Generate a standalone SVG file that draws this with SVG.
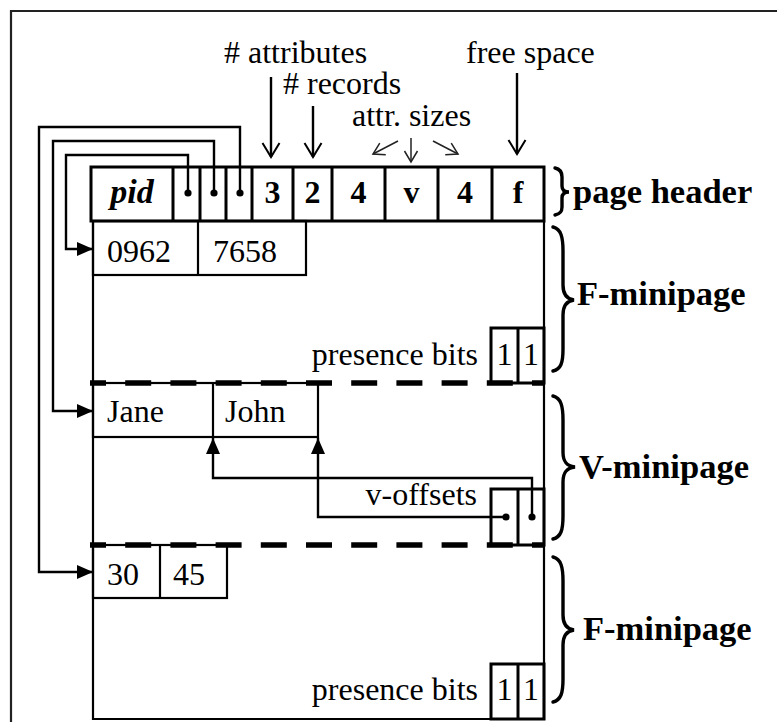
<svg xmlns="http://www.w3.org/2000/svg" width="777" height="722" viewBox="0 0 777 722">
<style>
text{font-family:"Liberation Serif","Times New Roman",serif;font-size:32px;fill:#000}
.b{font-weight:bold}
.lab{font-weight:bold;font-size:34.5px}
.bi{font-weight:bold;font-style:italic;font-size:34px}
.c{text-anchor:middle}
.e{text-anchor:end}
.thick{fill:none;stroke:#000;stroke-width:3}
.thin{fill:none;stroke:#000;stroke-width:2.2}
.dash{fill:none;stroke:#000;stroke-width:5.5;stroke-dasharray:26 19.2;stroke-dashoffset:10}
.brace{fill:none;stroke:#000;stroke-width:3.4;stroke-linecap:round}
.conn{fill:none;stroke:#000;stroke-width:2.4}
.sm{fill:none;stroke:#222;stroke-width:1.5}
</style>
<defs>
<marker id="open" markerWidth="20" markerHeight="20" refX="15" refY="10" orient="auto" markerUnits="userSpaceOnUse"><path d="M1,1.5 L15,10 L1,18.5" fill="none" stroke="#000" stroke-width="2"/></marker>
<marker id="openSm" markerWidth="16" markerHeight="16" refX="12" refY="8" orient="auto" markerUnits="userSpaceOnUse"><path d="M1,1.5 L12,8 L1,14.5" fill="none" stroke="#222" stroke-width="1.5"/></marker>
<marker id="fill" markerWidth="16" markerHeight="14" refX="16" refY="7" orient="auto" markerUnits="userSpaceOnUse"><path d="M0,0 L16,7 L0,14Z" fill="#000"/></marker>
</defs>
<rect width="777" height="722" fill="#fff"/>
<g id="frame"><path d="M11,722 V11 H777" fill="none" stroke="#222" stroke-width="2.2"/></g>

<g id="labels-top">
<text x="224" y="63"># attributes</text>
<text x="283" y="94"># records</text>
<text x="352" y="126">attr. sizes</text>
<text x="466" y="63">free space</text>
</g>

<g id="page-header">
<rect class="thick" x="91" y="167" width="453" height="54"/>
<path class="thick" d="M173,167V221 M200,167V221 M226,167V221 M252,167V221 M293,167V221 M332,167V221 M385,167V221 M438,167V221 M492,167V221"/>
<text class="bi c" x="132" y="203">pid</text>
<text class="b c" x="272.5" y="203">3</text>
<text class="b c" x="312.5" y="203">2</text>
<text class="b c" x="358.5" y="203">4</text>
<text class="b c" x="411.5" y="203">v</text>
<text class="b c" x="465" y="203">4</text>
<text class="b c" x="518" y="203">f</text>
<path class="brace" d="M555,168 C560,169 562,172 562,177 L562,186 C562,190 564,192 569,192 C564,192 562,194 562,198 L562,207 C562,212 560,214 555,215"/>
<text class="lab" x="573" y="203">page header</text>
</g>

<g id="page-body">
<path class="thin" d="M93,221 V719 H544 V221"/>
<path class="dash" d="M90,383 H544"/>
<path class="dash" d="M90,545 H544"/>
</g>

<g id="f-minipage-1">
<rect class="thin" x="93" y="221" width="213" height="54"/>
<path class="thin" d="M198,221V275"/>
<text x="107" y="262">0962</text>
<text x="213" y="262">7658</text>
<text class="e" x="478" y="365">presence bits</text>
<rect class="thick" x="491" y="328" width="53" height="55"/>
<path class="thick" d="M518,328V383"/>
<text class="c" x="504.5" y="365">1</text>
<text class="c" x="531" y="365">1</text>
<path class="brace" d="M553,227 C561,229 563,237 563,251 L563,285 C563,294 566,299 574,300 C566,301 563,306 563,315 L563,349 C563,363 561,369 553,371"/>
<text class="lab" x="577" y="305">F-minipage</text>
</g>

<g id="v-minipage">
<rect class="thin" x="93" y="383" width="225" height="54"/>
<path class="thin" d="M213,383V437"/>
<text x="107" y="422">Jane</text>
<text x="225" y="422">John</text>
<text class="e" x="477" y="505">v-offsets</text>
<rect class="thick" x="491" y="489" width="53" height="56"/>
<path class="thick" d="M518,489V545"/>
<path class="brace" d="M553,396 C561,398 563,406 563,420 L563,452 C563,461 566,466 575,467 C566,468 563,473 563,482 L563,516 C563,530 561,537 553,539"/>
<text class="lab" x="579" y="478">V-minipage</text>
</g>

<g id="f-minipage-2">
<rect class="thin" x="93" y="545" width="134" height="53"/>
<path class="thin" d="M160,545V598"/>
<text x="107" y="585">30</text>
<text x="173" y="585">45</text>
<text class="e" x="478" y="700">presence bits</text>
<rect class="thick" x="491" y="664" width="53" height="55"/>
<path class="thick" d="M518,664V719"/>
<text class="c" x="504.5" y="700">1</text>
<text class="c" x="531" y="700">1</text>
<path class="brace" d="M553,557 C561,559 563,567 563,581 L563,615 C563,624 566,629 574,630 C566,631 563,636 563,645 L563,679 C563,693 561,700 553,702"/>
<text class="lab" x="583" y="640">F-minipage</text>
</g>

<g id="connectors">
<path class="conn" d="M271,77 V157" marker-end="url(#open)"/>
<path class="conn" d="M313,106 V157" marker-end="url(#open)"/>
<path class="conn" d="M517,73 V154" marker-end="url(#open)"/>
<path class="sm" d="M411,138 V162" marker-end="url(#openSm)"/>
<path class="sm" d="M398,141 L373,154" marker-end="url(#openSm)"/>
<path class="sm" d="M433,141 L458,154" marker-end="url(#openSm)"/>
<path class="conn" d="M188,193 V155 H66 V249 H93" marker-end="url(#fill)"/>
<path class="conn" d="M214,193 V141 H53 V411 H93" marker-end="url(#fill)"/>
<path class="conn" d="M240,193 V127 H39 V572 H93" marker-end="url(#fill)"/>
<circle cx="188" cy="193" r="3.6"/>
<circle cx="214" cy="193" r="3.6"/>
<circle cx="240" cy="193" r="3.6"/>
<path class="conn" d="M506,517 H318 V438" marker-end="url(#fill)"/>
<path class="conn" d="M532,517 V478 H213 V438" marker-end="url(#fill)"/>
<circle cx="506" cy="517" r="3.6"/>
<circle cx="532" cy="517" r="3.6"/>
</g>
</svg>
